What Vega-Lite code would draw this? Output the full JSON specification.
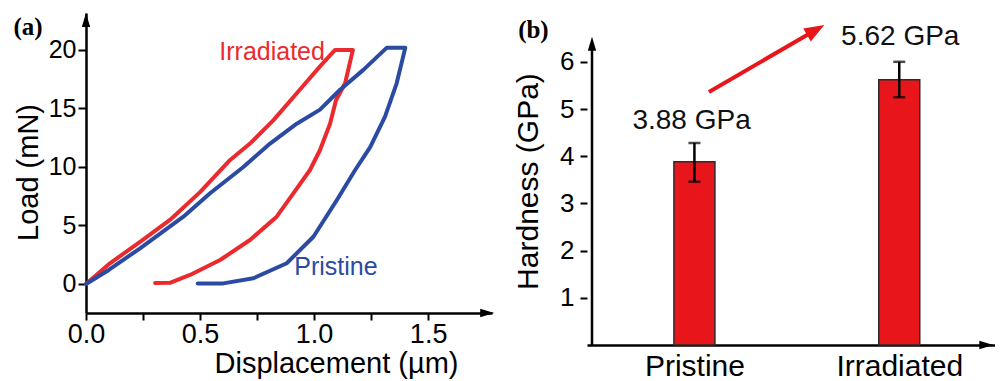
{
  "$schema": "https://vega.github.io/schema/vega-lite/v6.json",
  "padding": {"left": 13, "top": 13, "right": 0, "bottom": 0},
  "autosize": {"type": "pad"},
  "bounds": "flush",
  "spacing": 95,
  "config": {
    "view": {"stroke": null},
    "font": "Liberation Sans",
    "axis": {"grid": false, "domainColor": "black", "tickColor": "black", "labelColor": "black", "titleColor": "black", "labelFont": "Liberation Sans", "titleFont": "Liberation Sans", "titleFontWeight": "normal", "labelFlush": false, "labelOverlap": false}
  },
  "datasets": {
    "curves": [
      {"s": "Irradiated", "o": 0, "x": 0, "y": 0},
      {"s": "Irradiated", "o": 1, "x": 0.105, "y": 1.77},
      {"s": "Irradiated", "o": 2, "x": 0.237, "y": 3.6},
      {"s": "Irradiated", "o": 3, "x": 0.368, "y": 5.47},
      {"s": "Irradiated", "o": 4, "x": 0.5, "y": 7.85},
      {"s": "Irradiated", "o": 5, "x": 0.632, "y": 10.6},
      {"s": "Irradiated", "o": 6, "x": 0.719, "y": 12.0},
      {"s": "Irradiated", "o": 7, "x": 0.822, "y": 14.0},
      {"s": "Irradiated", "o": 8, "x": 0.924, "y": 16.3},
      {"s": "Irradiated", "o": 9, "x": 1.026, "y": 18.6},
      {"s": "Irradiated", "o": 10, "x": 1.092, "y": 20.0},
      {"s": "Irradiated", "o": 11, "x": 1.17, "y": 20.0},
      {"s": "Irradiated", "o": 12, "x": 1.136, "y": 17.15},
      {"s": "Irradiated", "o": 13, "x": 1.096, "y": 15.7},
      {"s": "Irradiated", "o": 14, "x": 1.07, "y": 13.7},
      {"s": "Irradiated", "o": 15, "x": 1.026, "y": 11.45},
      {"s": "Irradiated", "o": 16, "x": 0.982, "y": 9.74},
      {"s": "Irradiated", "o": 17, "x": 0.909, "y": 7.75},
      {"s": "Irradiated", "o": 18, "x": 0.836, "y": 5.75},
      {"s": "Irradiated", "o": 19, "x": 0.719, "y": 3.76},
      {"s": "Irradiated", "o": 20, "x": 0.588, "y": 2.05},
      {"s": "Irradiated", "o": 21, "x": 0.456, "y": 0.77},
      {"s": "Irradiated", "o": 22, "x": 0.368, "y": 0.1},
      {"s": "Irradiated", "o": 23, "x": 0.303, "y": 0.08},
      {"s": "Pristine", "o": 0, "x": 0, "y": 0},
      {"s": "Pristine", "o": 1, "x": 0.1, "y": 1.2},
      {"s": "Pristine", "o": 2, "x": 0.237, "y": 3.05},
      {"s": "Pristine", "o": 3, "x": 0.427, "y": 5.75},
      {"s": "Pristine", "o": 4, "x": 0.544, "y": 7.75},
      {"s": "Pristine", "o": 5, "x": 0.69, "y": 10.0},
      {"s": "Pristine", "o": 6, "x": 0.807, "y": 12.0},
      {"s": "Pristine", "o": 7, "x": 0.924, "y": 13.7},
      {"s": "Pristine", "o": 8, "x": 1.026, "y": 14.9},
      {"s": "Pristine", "o": 9, "x": 1.114, "y": 16.6},
      {"s": "Pristine", "o": 10, "x": 1.216, "y": 18.3},
      {"s": "Pristine", "o": 11, "x": 1.319, "y": 20.2},
      {"s": "Pristine", "o": 12, "x": 1.4, "y": 20.2},
      {"s": "Pristine", "o": 13, "x": 1.362, "y": 17.15},
      {"s": "Pristine", "o": 14, "x": 1.311, "y": 14.3},
      {"s": "Pristine", "o": 15, "x": 1.246, "y": 11.7},
      {"s": "Pristine", "o": 16, "x": 1.18, "y": 9.74},
      {"s": "Pristine", "o": 17, "x": 1.1, "y": 7.18},
      {"s": "Pristine", "o": 18, "x": 0.997, "y": 4.04},
      {"s": "Pristine", "o": 19, "x": 0.88, "y": 1.77},
      {"s": "Pristine", "o": 20, "x": 0.734, "y": 0.49},
      {"s": "Pristine", "o": 21, "x": 0.602, "y": 0.05},
      {"s": "Pristine", "o": 22, "x": 0.49, "y": 0.05}
    ],
    "curveLabels": [
      {"s": "Irradiated", "x": 0.816, "y": 19.8},
      {"s": "Pristine", "x": 1.096, "y": 1.45}
    ],
    "leftPanel": [{"x": -0.254, "y": 21.97, "t": "(a)"}],
    "leftYArrow": [{"x": 0, "y": 22.56}],
    "leftXArrow": [{"x": 1.759, "y": -2.48}],
    "hard": [
      {"sample": "Pristine", "pos": 1, "h": 3.88, "lo": 3.46, "hi": 4.28},
      {"sample": "Irradiated", "pos": 2, "h": 5.62, "lo": 5.25, "hi": 6.0}
    ],
    "hardLabels": [
      {"x": 0.986, "y": 4.75, "t": "3.88 GPa"},
      {"x": 2.005, "y": 6.53, "t": "5.62 GPa"}
    ],
    "rightPanel": [{"x": 0.214, "y": 6.67, "t": "(b)"}],
    "rightYAxis": [{"x": 0.5, "y": 0, "y2": 6.3}],
    "rightYArrow": [{"x": 0.5, "y": 6.38}],
    "rightXArrow": [{"x": 2.425, "y": 0}],
    "trendLine": [
      {"o": 0, "x": 1.071, "y": 5.36},
      {"o": 1, "x": 1.592, "y": 6.676}
    ],
    "trendHead": [{"x": 1.592, "y": 6.676}]
  },
  "hconcat": [
    {
      "width": 406,
      "height": 300,
      "layer": [
        {
          "data": {"name": "curves"},
          "mark": {"type": "line", "strokeWidth": 4, "strokeJoin": "round", "strokeCap": "round"},
          "encoding": {
            "x": {"field": "x", "type": "quantitative", "title": "Displacement (µm)",
              "scale": {"domain": [0, 1.78], "nice": false, "zero": false},
              "axis": {"values": [0, 0.25, 0.5, 0.75, 1, 1.25, 1.5], "labelExpr": "datum.value % 0.5 === 0 ? format(datum.value, '.1f') : ''",
                "domainWidth": 2.5, "tickWidth": 2, "tickSize": 7, "labelFontSize": 27, "labelPadding": 1,
                "titleFontSize": 29, "titleX": 250, "titlePadding": 2}},
            "y": {"field": "y", "type": "quantitative", "title": "Load (mN)",
              "scale": {"domain": [-2.48, 23.16], "nice": false, "zero": false},
              "axis": {"values": [0, 2.5, 5, 7.5, 10, 12.5, 15, 17.5, 20], "labelExpr": "datum.value % 5 === 0 ? datum.label : ''",
                "domainWidth": 2.5, "tickWidth": 2, "tickSize": 8, "labelFontSize": 25, "labelPadding": 2,
                "titleFontSize": 29, "titlePadding": 5, "titleY": 159}},
            "color": {"field": "s", "type": "nominal", "scale": {"domain": ["Irradiated", "Pristine"], "range": ["#ea2a2d", "#2b4ba3"]}, "legend": null},
            "order": {"field": "o", "type": "quantitative"}
          }
        },
        {
          "data": {"name": "curveLabels"},
          "mark": {"type": "text", "fontSize": 25, "font": "Liberation Sans"},
          "encoding": {
            "x": {"field": "x", "type": "quantitative", "title": "Displacement (µm)"},
            "y": {"field": "y", "type": "quantitative", "title": "Load (mN)"},
            "text": {"field": "s"},
            "color": {"field": "s", "type": "nominal", "legend": null}
          }
        },
        {
          "data": {"name": "leftPanel"},
          "mark": {"type": "text", "fontSize": 25, "font": "Liberation Serif", "fontWeight": "bold", "color": "black"},
          "encoding": {
            "x": {"field": "x", "type": "quantitative", "title": "Displacement (µm)"},
            "y": {"field": "y", "type": "quantitative", "title": "Load (mN)"},
            "text": {"field": "t"}
          }
        },
        {
          "data": {"name": "leftYArrow"},
          "mark": {"type": "point", "shape": "M0,-1L0.6,1L-0.6,1Z", "size": 196, "filled": true, "color": "black", "opacity": 1},
          "encoding": {
            "x": {"field": "x", "type": "quantitative", "title": "Displacement (µm)"},
            "y": {"field": "y", "type": "quantitative", "title": "Load (mN)"}
          }
        },
        {
          "data": {"name": "leftXArrow"},
          "mark": {"type": "point", "shape": "M1,0L-1,-0.6L-1,0.6Z", "size": 196, "filled": true, "color": "black", "opacity": 1},
          "encoding": {
            "x": {"field": "x", "type": "quantitative", "title": "Displacement (µm)"},
            "y": {"field": "y", "type": "quantitative", "title": "Load (mN)"}
          }
        }
      ]
    },
    {
      "width": 408,
      "height": 332,
      "layer": [
        {
          "data": {"name": "hard"},
          "mark": {"type": "bar", "width": 41, "color": "#e8161b", "stroke": "#2a2a2a", "strokeWidth": 1.5},
          "encoding": {
            "x": {"field": "pos", "type": "quantitative", "title": null,
              "scale": {"domain": [0.5, 2.443], "nice": false, "zero": false},
              "axis": {"values": [1, 2], "labelExpr": "datum.value == 1 ? 'Pristine' : 'Irradiated'", "ticks": false,
                "labelFontSize": 30, "labelPadding": 6, "domainWidth": 2.5}},
            "y": {"field": "h", "type": "quantitative", "title": "Hardness (GPa)",
              "scale": {"domain": [0, 7.034], "nice": false},
              "axis": {"values": [1, 2, 3, 4, 5, 6], "domain": false, "tickSize": 7, "tickWidth": 2,
                "labelFontSize": 26, "labelPadding": 6, "titleFontSize": 30, "titlePadding": 16, "titleY": 168}}
          }
        },
        {
          "data": {"name": "hard"},
          "mark": {"type": "errorbar", "color": "black", "thickness": 2.5, "ticks": {"size": 12, "thickness": 2.5, "color": "black"}},
          "encoding": {
            "x": {"field": "pos", "type": "quantitative", "title": null},
            "y": {"field": "lo", "type": "quantitative", "title": "Hardness (GPa)"},
            "y2": {"field": "hi"}
          }
        },
        {
          "data": {"name": "hardLabels"},
          "mark": {"type": "text", "fontSize": 28, "font": "Liberation Sans", "color": "#111111"},
          "encoding": {
            "x": {"field": "x", "type": "quantitative", "title": null},
            "y": {"field": "y", "type": "quantitative", "title": "Hardness (GPa)"},
            "text": {"field": "t"}
          }
        },
        {
          "data": {"name": "rightPanel"},
          "mark": {"type": "text", "fontSize": 25, "font": "Liberation Serif", "fontWeight": "bold", "color": "black"},
          "encoding": {
            "x": {"field": "x", "type": "quantitative", "title": null},
            "y": {"field": "y", "type": "quantitative", "title": "Hardness (GPa)"},
            "text": {"field": "t"}
          }
        },
        {
          "data": {"name": "rightYAxis"},
          "mark": {"type": "rule", "strokeWidth": 2.5, "color": "black"},
          "encoding": {
            "x": {"field": "x", "type": "quantitative", "title": null},
            "y": {"field": "y", "type": "quantitative", "title": "Hardness (GPa)"},
            "y2": {"field": "y2"}
          }
        },
        {
          "data": {"name": "rightYArrow"},
          "mark": {"type": "point", "shape": "M0,-1L0.6,1L-0.6,1Z", "size": 196, "filled": true, "color": "black", "opacity": 1},
          "encoding": {
            "x": {"field": "x", "type": "quantitative", "title": null},
            "y": {"field": "y", "type": "quantitative", "title": "Hardness (GPa)"}
          }
        },
        {
          "data": {"name": "rightXArrow"},
          "mark": {"type": "point", "shape": "M1,0L-1,-0.6L-1,0.6Z", "size": 196, "filled": true, "color": "black", "opacity": 1},
          "encoding": {
            "x": {"field": "x", "type": "quantitative", "title": null},
            "y": {"field": "y", "type": "quantitative", "title": "Hardness (GPa)"}
          }
        },
        {
          "data": {"name": "trendLine"},
          "mark": {"type": "line", "color": "#e8161b", "strokeWidth": 4},
          "encoding": {
            "x": {"field": "x", "type": "quantitative", "title": null},
            "y": {"field": "y", "type": "quantitative", "title": "Hardness (GPa)"},
            "order": {"field": "o", "type": "quantitative"}
          }
        },
        {
          "data": {"name": "trendHead"},
          "mark": {"type": "point", "shape": "M1,0L-1,-0.75L-1,0.75Z", "size": 400, "angle": -30, "filled": true, "color": "#e8161b", "opacity": 1},
          "encoding": {
            "x": {"field": "x", "type": "quantitative", "title": null},
            "y": {"field": "y", "type": "quantitative", "title": "Hardness (GPa)"}
          }
        }
      ]
    }
  ]
}
